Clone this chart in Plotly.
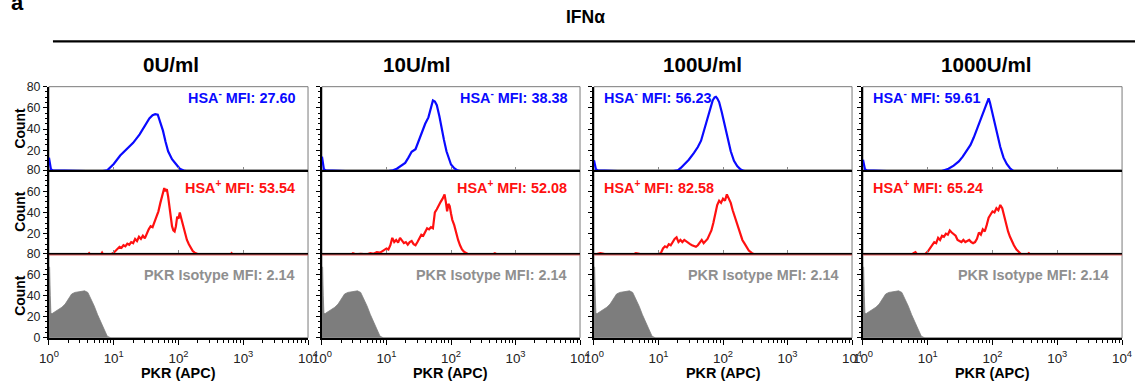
import plotly.graph_objects as go

# Geometry is measured in the reference picture's pixels (1137 x 385).  The rendered page
# keeps an 8px body margin and the photographed page is scaled to the window, so picture
# pixels are mapped onto figure pixels with PAGE_W/PIC_W and PAGE_H/PIC_H.
PIC_W, PIC_H = 1137, 385
OFF = 8
PAGE_W, PAGE_H = PIC_W + 2 * OFF, PIC_H + 2 * OFF
W, H = PAGE_W - OFF, PAGE_H - OFF
SX, SY = PAGE_W / PIC_W, PAGE_H / PIC_H
FS = 1.03  # font compensation for the scaling

# ---------------- data ----------------
conc_labels = ["0U/ml", "10U/ml", "100U/ml", "1000U/ml"]
hsa_neg_mfi = ["27.60", "38.38", "56.23", "59.61"]
hsa_pos_mfi = ["53.54", "52.08", "82.58", "65.24"]
iso_mfi = ["2.14", "2.14", "2.14", "2.14"]

# HSA- (blue) histograms: log10(PKR) bin positions and counts
neg_logx_0 = [0.0, 0.01, 0.03, 0.06, 0.3, 0.5, 0.8, 0.9, 1.0, 1.1, 1.2, 1.3, 1.4, 1.48, 1.55, 1.6, 1.64, 1.68, 1.72, 1.76,
              1.8, 1.84, 1.9, 1.96, 2.02, 2.08, 2.14, 3.0, 4.0]
neg_cnt_0 = [13, 9, 2, 1, 0.5, 0, 0, 1, 7, 15, 21, 27, 35, 43, 50, 53, 54, 53.5, 47, 38.5,
             28, 19, 11.5, 6.5, 2.5, 0.8, 0, 0, 0]

neg_logx_1 = [0.0, 0.01, 0.03, 0.06, 0.26, 0.5, 1.0, 1.1, 1.16, 1.22, 1.29, 1.34, 1.39, 1.45, 1.5, 1.55, 1.6, 1.65, 1.69,
              1.72, 1.75, 1.78, 1.82, 1.85, 1.89, 1.93, 1.97, 2.0, 2.05, 2.1, 2.16, 3.0, 4.0]
neg_cnt_1 = [14, 9, 2, 1, 0.5, 0, 0, 1, 2.5, 5, 8, 13, 18.5, 21, 29, 38.5, 45, 51, 60,
             67, 66, 62.5, 52, 41.5, 30, 19, 11, 6.5, 3, 1, 0, 0, 0]

neg_logx_2 = [0.0, 0.01, 0.03, 0.06, 0.3, 0.5, 1.2, 1.3, 1.35, 1.4, 1.47, 1.55, 1.61, 1.66, 1.71, 1.76, 1.8, 1.84, 1.87,
              1.89, 1.91, 1.94, 1.98, 2.02, 2.07, 2.12, 2.17, 2.22, 2.27, 2.32, 2.38, 3.0, 4.0]
neg_cnt_2 = [10.5, 7, 2, 1, 0.5, 0, 0, 1, 3.5, 6.5, 11, 17.5, 23, 29, 39, 51, 59, 67, 70,
             70.5, 69, 65.5, 56, 45, 32, 19, 10, 5, 2, 0.5, 0, 0, 0]

neg_logx_3 = [0.0, 0.01, 0.03, 0.06, 0.3, 0.5, 1.2, 1.32, 1.4, 1.48, 1.54, 1.6, 1.66, 1.71, 1.76, 1.81, 1.85, 1.89,
              1.92, 1.94, 1.96, 1.99, 2.03, 2.07, 2.12, 2.17, 2.22, 2.27, 2.33, 3.0, 4.0]
neg_cnt_3 = [11, 7, 2, 1, 0.5, 0, 0, 2.5, 5.5, 9.5, 14, 19, 25, 32, 40, 48, 55, 62.5,
             67, 69, 65, 57.5, 46, 35, 23, 13, 7, 3, 0, 0, 0]

# HSA+ (red) histograms
pos_logx_0 = [0.0, 0.6, 0.62, 0.64, 0.8, 0.82, 0.84, 0.95, 1.0, 1.03, 1.06, 1.09, 1.12, 1.15, 1.18, 1.21, 1.24, 1.27,
              1.30, 1.33, 1.36, 1.39, 1.42, 1.45, 1.48, 1.51, 1.54, 1.57, 1.60, 1.63, 1.66, 1.69, 1.72, 1.74, 1.76,
              1.78, 1.80, 1.82, 1.84, 1.86, 1.88, 1.90, 1.92, 1.94, 1.96, 1.98, 2.00, 2.02, 2.04, 2.06, 2.08, 2.10,
              2.13, 2.16, 2.19, 2.22, 2.25, 2.28, 2.32, 2.6, 2.8, 2.82, 2.84, 3.0, 4.0]
pos_cnt_0 = [0, 0, 1.5, 0, 0, 2, 0, 0, 2, 4, 6, 7.5, 6.5, 9, 8, 10.5, 9.5, 12,
             11, 15, 13, 17, 15, 18, 15.5, 20, 24, 27, 26, 31, 36, 41, 49, 53, 58,
             63, 60, 62, 55, 45, 35, 27, 23, 22, 27, 36, 34, 40, 35, 30, 24, 19,
             14, 10, 6, 3.5, 2, 1, 0, 0, 0, 1.5, 0, 0, 0]

pos_logx_1 = [0.0, 0.45, 0.48, 0.52, 0.6, 0.7, 0.75, 0.8, 0.85, 0.9, 0.95, 1.0, 1.03, 1.06, 1.09, 1.12, 1.15, 1.18,
              1.21, 1.24, 1.27, 1.30, 1.33, 1.36, 1.39, 1.42, 1.45, 1.48, 1.51, 1.54, 1.57, 1.60, 1.63, 1.66, 1.69,
              1.72, 1.75, 1.78, 1.81, 1.84, 1.87, 1.90, 1.92, 1.94, 1.96, 1.98, 2.00, 2.02, 2.05, 2.08, 2.11, 2.14,
              2.17, 2.20, 2.24, 2.28, 2.64, 2.68, 2.72, 3.0, 4.0]
pos_cnt_1 = [0, 0, 1.5, 0.5, 1, 0.5, 1.5, 1, 2.5, 2, 4, 6, 5, 9, 16, 12, 14, 11.5,
             16, 13, 11, 12, 9.5, 12, 13, 10, 9, 12, 15, 19, 18, 22, 25, 24, 26,
             25, 40, 43, 47, 50, 53, 57, 50, 41, 48, 46, 39, 33, 28, 20, 14, 9,
             5, 3, 1, 0, 0, 1.5, 0, 0, 0]

pos_logx_2 = [0.0, 0.06, 0.1, 0.15, 0.2, 0.6, 0.65, 0.7, 0.75, 1.0, 1.04, 1.07, 1.1, 1.13, 1.16, 1.19, 1.22, 1.25,
              1.28, 1.31, 1.34, 1.37, 1.40, 1.43, 1.46, 1.49, 1.52, 1.55, 1.58, 1.61, 1.64, 1.67, 1.70, 1.73, 1.76,
              1.79, 1.82, 1.85, 1.88, 1.91, 1.94, 1.97, 2.00, 2.03, 2.06, 2.09, 2.12, 2.15, 2.18, 2.21, 2.24, 2.27,
              2.30, 2.33, 2.36, 2.40, 2.45, 2.5, 3.0, 4.0]
pos_cnt_2 = [0, 1, 1.5, 1, 0, 0, 1.5, 1, 0, 0, 2, 6, 8, 7, 10, 9, 12, 15,
             16.5, 12, 14, 12, 14, 12.5, 11, 10, 9, 8, 7.5, 9, 12, 14, 11, 13, 15,
             19, 23, 30, 40, 47, 51, 49, 53, 51, 57, 53, 49, 42, 36, 30, 24, 19,
             14, 11, 8, 4, 1.5, 0, 0, 0]

pos_logx_3 = [0.0, 0.75, 0.78, 0.81, 0.84, 0.95, 1.0, 1.04, 1.07, 1.10, 1.13, 1.16, 1.19, 1.22, 1.25, 1.28, 1.31, 1.34,
              1.37, 1.40, 1.43, 1.46, 1.49, 1.52, 1.55, 1.58, 1.61, 1.64, 1.67, 1.70, 1.73, 1.76, 1.79, 1.82, 1.85,
              1.88, 1.91, 1.94, 1.97, 2.00, 2.03, 2.06, 2.09, 2.12, 2.15, 2.18, 2.21, 2.24, 2.27, 2.30, 2.33, 2.37,
              2.41, 2.45, 2.53, 2.56, 2.59, 3.0, 4.0]
pos_cnt_3 = [0, 0, 1.5, 2.5, 0, 0, 3, 7, 9, 12, 11, 16, 14, 18, 17, 20, 19, 23,
             21, 19, 18, 14, 13, 12, 14, 12, 13, 14, 12, 11, 12, 15, 21, 19, 24,
             22, 28, 35, 38, 41, 40, 44, 42, 47, 44, 36, 28, 22, 17, 12, 9, 5,
             2, 0, 0, 1.5, 0, 0, 0]

# PKR isotype control (grey, identical in every column)
iso_logx = [0.0, 0.01, 0.02, 0.03, 0.05, 0.1, 0.15, 0.2, 0.25, 0.3, 0.35, 0.4, 0.45, 0.5, 0.55, 0.6, 0.65, 0.7,
            0.75, 0.8, 0.85, 0.9, 0.95]
iso_cnt = [67, 67, 40, 23, 23, 25, 27, 29, 32, 37, 41.5, 43, 43.5, 44.5, 44.5, 43, 37, 30,
           22, 15, 7, 1.5, 0]

neg_series = [(neg_logx_0, neg_cnt_0), (neg_logx_1, neg_cnt_1), (neg_logx_2, neg_cnt_2), (neg_logx_3, neg_cnt_3)]
pos_series = [(pos_logx_0, pos_cnt_0), (pos_logx_1, pos_cnt_1), (pos_logx_2, pos_cnt_2), (pos_logx_3, pos_cnt_3)]
for xs, ys in neg_series + pos_series + [(iso_logx, iso_cnt)]:
    assert len(xs) == len(ys)

x_tickvals = [1, 10, 100, 1000, 10000]
x_ticktext = ["10<sup>0</sup>", "10<sup>1</sup>", "10<sup>2</sup>", "10<sup>3</sup>", "10<sup>4</sup>"]
x_minor = [m * 10 ** e for e in range(4) for m in range(2, 10)]
y_ticks_upper = [20, 40, 60, 80]
y_ticks_bottom = [0, 20, 40, 60, 80]

# ---------------- styling / geometry ----------------
FONT = "Liberation Sans, Arial, Helvetica, sans-serif"
BLUE = "#0a0aff"
RED = "#ff1010"
GREY_FILL = "#7d7d7d"
GREY_TXT = "#8f8f8f"

col_px = [(47, 307), (321, 580), (594, 853), (864, 1124)]
row_px = [(87, 170), (170, 253), (253, 337)]


def fx(p):
    return (p * SX - OFF) / W


def fy(p):
    return 1 - (p * SY - OFF) / H


fig = go.Figure()
layout = dict(
    width=W, height=H, autosize=False,
    margin=dict(l=0, r=0, t=0, b=0),
    paper_bgcolor="white", plot_bgcolor="white",
    showlegend=False,
    font=dict(family=FONT, color="#222222"),
)
shapes = []
annotations = []

for r in range(3):
    for c in range(4):
        idx = r * 4 + c + 1
        xa = "x" if idx == 1 else f"x{idx}"
        ya = "y" if idx == 1 else f"y{idx}"
        xkey = "xaxis" if idx == 1 else f"xaxis{idx}"
        ykey = "yaxis" if idx == 1 else f"yaxis{idx}"
        x0, x1 = col_px[c]
        t, b = row_px[r]
        bottom = (r == 2)
        xaxis = dict(
            domain=[fx(x0), fx(x1)], anchor=ya, type="log", range=[0, 4],
            showgrid=False, zeroline=False, showline=True, linecolor="black", linewidth=2,
            tickmode="array", tickvals=x_tickvals,
            ticks="outside" if bottom else "inside", ticklen=5 if bottom else 3,
            tickwidth=1.3, tickcolor="black" if bottom else "#888888",
            showticklabels=bottom,
            fixedrange=True,
        )
        if bottom:
            xaxis["ticktext"] = x_ticktext
            xaxis["ticklabelstandoff"] = 2
            xaxis["tickfont"] = dict(size=13 * FS, color="#222222", family=FONT)
            xaxis["minor"] = dict(tickvals=x_minor, ticks="outside", ticklen=3, tickwidth=1, tickcolor="black")
        layout[xkey] = xaxis
        yaxis = dict(
            domain=[fy(b), fy(t)], anchor=xa, range=[0, 80] if bottom else [1.3, 80],
            showgrid=False, zeroline=False, showline=True, linecolor="black", linewidth=2,
            tickmode="array", tickvals=y_ticks_bottom if bottom else y_ticks_upper,
            showticklabels=(c == 0), ticks="outside", ticklen=4, tickwidth=1.2, tickcolor="black",
            minor=dict(dtick=5, ticks="outside", ticklen=2, tickwidth=1, tickcolor="black"),
            fixedrange=True,
        )
        if c == 0:
            yaxis["tickfont"] = dict(size=12 * FS, color="#222222", family=FONT)
        layout[ykey] = yaxis
        # thin grey frame (top & right)
        shapes.append(dict(type="rect", xref=f"{xa} domain", yref=f"{ya} domain",
                           x0=0, x1=1, y0=0, y1=1, line=dict(color="#7a7a7a", width=1), layer="below"))

        if r == 0:
            xs, ys = neg_series[c]
            fig.add_trace(go.Scatter(x=[10 ** v for v in xs], y=ys, mode="lines",
                                     line=dict(color=BLUE, width=2.2), xaxis=xa, yaxis=ya,
                                     hoverinfo="skip"))
            label = f"HSA<sup>-</sup> MFI: {hsa_neg_mfi[c]}"
            color = BLUE
            ty = 97
        elif r == 1:
            xs, ys = pos_series[c]
            fig.add_trace(go.Scatter(x=[10 ** v for v in xs], y=ys, mode="lines",
                                     line=dict(color=RED, width=2.2), xaxis=xa, yaxis=ya,
                                     hoverinfo="skip"))
            label = f"HSA<sup>+</sup> MFI: {hsa_pos_mfi[c]}"
            color = RED
            ty = 187
        else:
            fig.add_trace(go.Scatter(x=[10 ** v for v in iso_logx], y=iso_cnt, mode="lines",
                                     line=dict(color=GREY_FILL, width=0.8), fill="tozeroy",
                                     fillcolor=GREY_FILL, xaxis=xa, yaxis=ya, hoverinfo="skip"))
            label = f"PKR Isotype MFI: {iso_mfi[c]}"
            color = GREY_TXT
            ty = 274
            # faint red line just under the HSA+ panel baseline
            shapes.append(dict(type="line", xref=f"{xa} domain", yref=f"{ya} domain",
                               x0=0, x1=1, y0=1 - 1.6 / (b - t), y1=1 - 1.6 / (b - t),
                               line=dict(color="#e06060", width=1)))

        if r < 2 and c >= 2:
            ax_x, anchor = fx(x0 + 8), "left"
        else:
            ax_x, anchor = fx(x1 - 11), "right"
        annotations.append(dict(text=f"<b>{label}</b>", x=ax_x, y=fy(ty), xref="paper", yref="paper",
                                xanchor=anchor, yanchor="middle", showarrow=False,
                                font=dict(size=14 * FS, color=color, family=FONT)))

    # "Count" y titles
    t, b = row_px[r]
    annotations.append(dict(text="<b>Count</b>", x=fx(18), y=fy((t + b) / 2), xref="paper", yref="paper",
                            xanchor="center", yanchor="middle", textangle=-90, showarrow=False,
                            font=dict(size=13.5 * FS, color="black", family=FONT)))

# column headers and x titles
title_cx = [169, 416, 703, 987]
for c in range(4):
    annotations.append(dict(text=f"<b>{conc_labels[c]}</b>", x=fx(title_cx[c]), y=fy(65), xref="paper",
                            yref="paper", xanchor="center", yanchor="middle", showarrow=False,
                            font=dict(size=20 * FS, color="black", family=FONT)))
    x0, x1 = col_px[c]
    annotations.append(dict(text="<b>PKR (APC)</b>", x=fx((x0 + x1) / 2), y=fy(372.5), xref="paper",
                            yref="paper", xanchor="center", yanchor="middle", showarrow=False,
                            font=dict(size=14 * FS, color="black", family=FONT)))

annotations.append(dict(text="<b>IFNα</b>", x=fx(585), y=fy(18), xref="paper", yref="paper",
                        xanchor="center", yanchor="middle", showarrow=False,
                        font=dict(size=17 * FS, color="black", family=FONT)))
annotations.append(dict(text="<b>a</b>", x=0, y=fy(17), xref="paper", yref="paper",
                        xanchor="left", yanchor="bottom", showarrow=False, borderpad=0,
                        font=dict(size=22, color="black", family=FONT)))
shapes.append(dict(type="line", xref="paper", yref="paper", x0=fx(51), x1=1, y0=fy(42), y1=fy(42),
                   line=dict(color="black", width=2.2)))

layout["shapes"] = shapes
layout["annotations"] = annotations
fig.update_layout(**layout)

fig.write_html("out.html", config={"responsive": False, "displayModeBar": False})
